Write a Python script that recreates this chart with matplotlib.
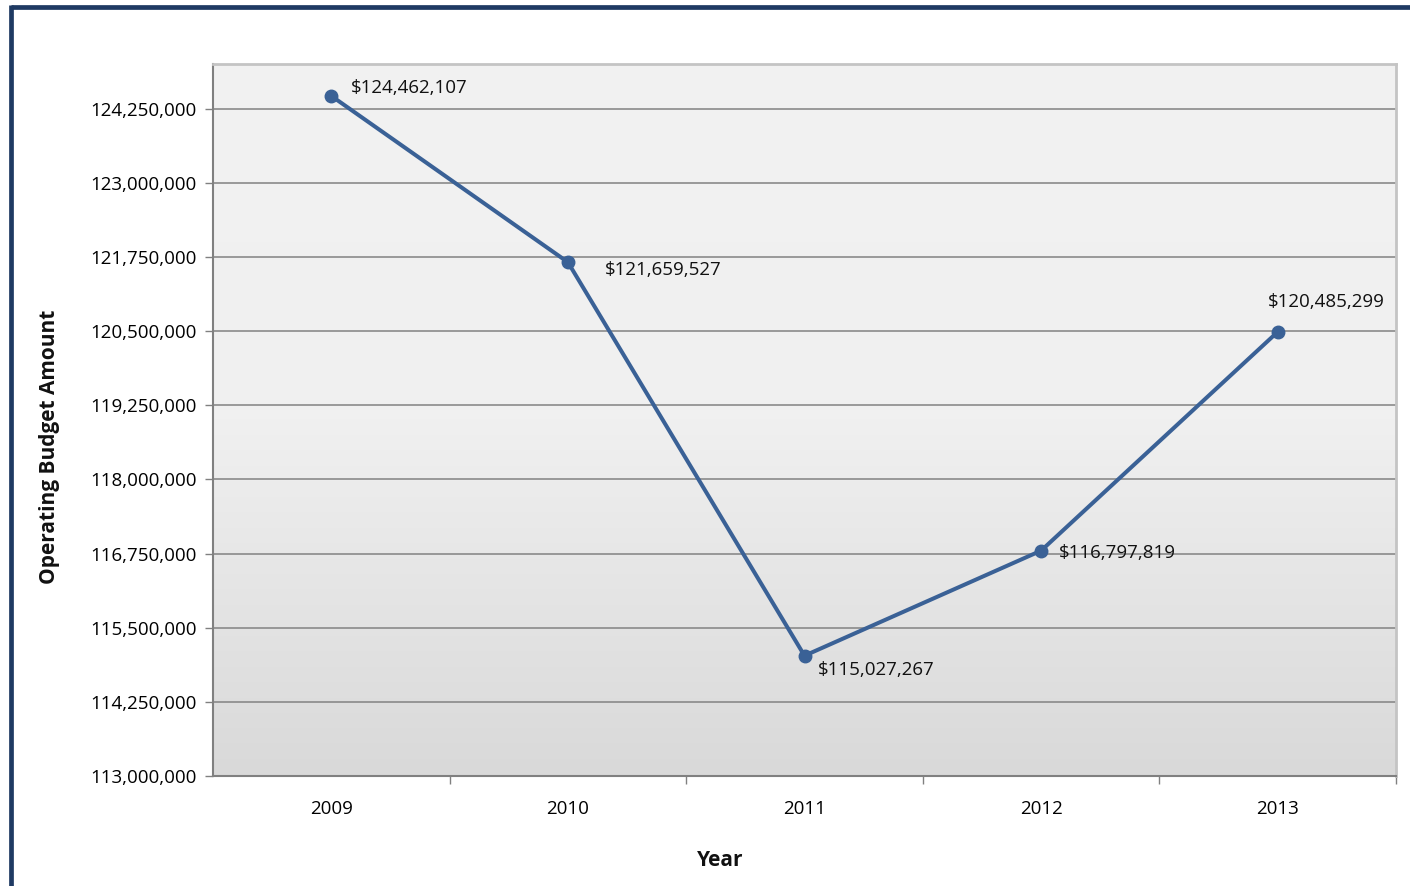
import numpy as np
import matplotlib
matplotlib.use("Agg")
import matplotlib.pyplot as plt
from matplotlib.lines import Line2D
from matplotlib.ticker import FuncFormatter, FixedLocator

plt.rcParams['font.family'] = ['Open Sans', 'DejaVu Sans']

years = ['2009', '2010', '2011', '2012', '2013']
budget = [124462107, 121659527, 115027267, 116797819, 120485299]
# label offsets in pixels (dx, dy) and alignment per point
label_offsets = [(20, 8), (37, -8), (13, -14), (18, -2), (49, 30)]
label_ha = ['left', 'left', 'left', 'left', 'center']

W, H = 1410, 886
fig = plt.figure(figsize=(W / 100, H / 100), dpi=100)
ax = fig.add_axes([213 / W, 1 - 776 / H, (1396 - 213) / W, (776 - 64) / H])

# gradient plot background
grad = np.linspace(0, 1, 256).reshape(-1, 1)
ax.imshow(grad, cmap=matplotlib.colors.LinearSegmentedColormap.from_list(
    'bg', ['#f2f2f2', '#f0f0f0', '#d9d9d9']), aspect='auto',
    extent=(0, 1, 0, 1), transform=ax.transAxes, zorder=0, origin='upper')

x = np.arange(len(years))
ax.plot(x, budget, color='#3a6196', lw=2.9, marker='o', ms=9, zorder=3,
        solid_capstyle='round')

for xi, v, (dx, dy), ha in zip(x, budget, label_offsets, label_ha):
    ax.annotate(f'${v:,.0f}', (xi, v), xytext=(dx, dy), textcoords='offset pixels',
                ha=ha, va='center', fontsize=13.5, color='#111111', zorder=4)

ax.set_xlim(-0.5, len(years) - 0.5)
ax.set_ylim(113000000, 125000000)
yt = np.arange(113000000, 125000000, 1250000)
ax.set_yticks(yt)
ax.yaxis.set_major_formatter(FuncFormatter(lambda v, p: f'{v:,.0f}'))
ax.grid(axis='y', color='#8a8a8a', lw=1.2, zorder=1)
ax.set_axisbelow(True)

ax.set_xticks(x)
ax.set_xticklabels(years)
ax.xaxis.set_minor_locator(FixedLocator(np.arange(0.5, len(years), 1.0)))
ax.tick_params(axis='x', which='major', length=0, pad=17, labelsize=13.5)
ax.tick_params(axis='x', which='minor', length=6, color='#808080', width=1)
ax.tick_params(axis='y', length=6, color='#808080', width=1, labelsize=13.5, pad=6)

for s in ['left', 'bottom']:
    ax.spines[s].set_color('#808080')
    ax.spines[s].set_linewidth(1.5)
for s in ['top', 'right']:
    ax.spines[s].set_color('#c4c4c4')
    ax.spines[s].set_linewidth(2)

fig.text(50 / W, 1 - 447 / H, 'Operating Budget Amount', rotation=90,
         ha='center', va='center', fontsize=15, fontweight='bold', color='#111111')
fig.text(720 / W, 1 - 861 / H, 'Year', ha='center', va='center',
         fontsize=15, fontweight='bold', color='#111111')

# navy frame (top and left edges)
navy = '#1f3a63'
fig.add_artist(Line2D([10.5 / W, 1], [1 - 7 / H, 1 - 7 / H], color=navy, lw=3.4,
                      transform=fig.transFigure, solid_capstyle='butt'))
fig.add_artist(Line2D([10.5 / W, 10.5 / W], [0, 1 - 5 / H], color=navy, lw=3.4,
                      transform=fig.transFigure, solid_capstyle='butt'))

fig.savefig('out.png', dpi=100)
